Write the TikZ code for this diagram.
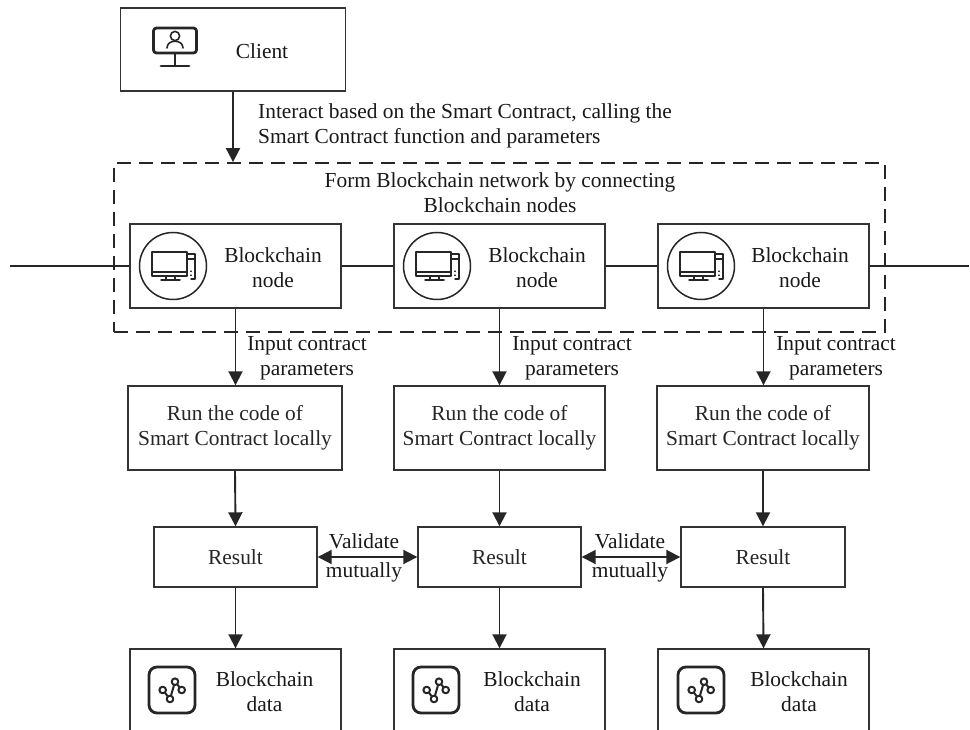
\documentclass[tikz,border=0pt]{standalone}
\usepackage{fontspec}
\setmainfont{Liberation Serif}
\usetikzlibrary{arrows.meta,positioning}
\tikzset{
  bx/.style={draw=black!80,line width=1.4pt,inner sep=0pt,align=center,text=black!85,font=\fontsize{21.4}{25}\selectfont},
  lab/.style={inner sep=0pt,align=center,text=black!90,font=\fontsize{21.4}{25}\selectfont},
  labv/.style={lab,font=\fontsize{21.4}{29}\selectfont},
  con/.style={draw=black!85,line width=1.9pt},
  arr/.style={con,-{Triangle[length=14pt,width=14pt]}},
  arrb/.style={con,{Triangle[length=14pt,width=14pt]}-{Triangle[length=14pt,width=14pt]}},
  ico/.style={draw=black!85,line width=1.5pt,line cap=round,line join=round},
  icob/.style={draw=black!85,line width=2.8pt,line cap=round,line join=round},
}
\newcommand{\pcicon}[2]{\begin{scope}[shift={(#1,#2)}]
  \draw[ico] (0,0) circle (33.5pt);
  \draw[ico] (14,-12) -- (22,-12) -- (22,13) -- (18,13);
  \draw[ico] (14,-7) -- (22,-7);
  \draw[ico,fill=white,line width=2pt] (-21,-14) rectangle (14,10);
  \draw[ico,line width=1.3pt] (-21,6) -- (14,6);
  \draw[ico] (-7,10) -- (-7,14) (2,10) -- (2,14) (-12,14) -- (7,14);
  \draw[ico,line width=1.2pt] (18,5) -- (18,5.5) (18,9) -- (18,9.5);
\end{scope}}
\newcommand{\dataicon}[2]{\begin{scope}[shift={(#1,#2)}]
  \draw[icob,rounded corners=8pt] (-23,-23) rectangle (23,23);
  \draw[ico,line width=2pt] (-9.3,0) -- (-2,9) -- (3,-8.3) -- (9.7,0);
  \foreach \p in {(-9.3,0),(-2,9),(3,-8.3),(9.7,0)} \draw[ico,line width=2pt,fill=white] \p circle (3.3pt);
\end{scope}}
\begin{document}
\begin{tikzpicture}[x=1pt,y=-1pt]
\useasboundingbox (0,0) rectangle (970,730);
\clip (0,0) rectangle (970,730);
\fill[white] (0,0) rectangle (970,730);

% boxes
\node[bx,minimum width=225pt,minimum height=83pt] (client) at (233,49.5) {};
\node[lab] (clientt) at (262,51) {Client};

\node[draw=black!85,line width=1.8pt,dash pattern=on 14pt off 8pt,minimum width=771pt,minimum height=169pt,inner sep=0pt] (net) at (499.5,247.5) {};
\node[lab] (nett) at (500,192.5) {Form Blockchain network by connecting\\Blockchain nodes};

\node[bx,minimum width=211pt,minimum height=84pt] (n1) at (235.5,266) {};
\node[bx,minimum width=211pt,minimum height=84pt] (n2) at (499.5,266) {};
\node[bx,minimum width=211pt,minimum height=84pt] (n3) at (763.5,266) {};
\node[lab] (n1t) at (273,267.5) {Blockchain\\node};
\node[lab] (n2t) at (537,267.5) {Blockchain\\node};
\node[lab] (n3t) at (800,267.5) {Blockchain\\node};

\node[bx,minimum width=214pt,minimum height=84pt] (r1) at (235,428) {Run the code of\\Smart Contract locally};
\node[bx,minimum width=211pt,minimum height=84pt] (r2) at (499.5,428) {Run the code of\\Smart Contract locally};
\node[bx,minimum width=212pt,minimum height=84pt] (r3) at (763,428) {Run the code of\\Smart Contract locally};

\node[bx,minimum width=163pt,minimum height=60pt] (s1) at (235.5,557) {Result};
\node[bx,minimum width=163pt,minimum height=60pt] (s2) at (499.5,557) {Result};
\node[bx,minimum width=164pt,minimum height=60pt] (s3) at (763,557) {Result};

\node[bx,minimum width=211pt,minimum height=84pt] (d1) at (235.5,691) {};
\node[bx,minimum width=211pt,minimum height=84pt] (d2) at (499.5,691) {};
\node[bx,minimum width=211pt,minimum height=84pt] (d3) at (763.5,691) {};
\node[lab] (d1t) at (264.5,692) {Blockchain\\data};
\node[lab] (d2t) at (532,692) {Blockchain\\data};
\node[lab] (d3t) at (799,692) {Blockchain\\data};

% icons
\pcicon{173}{266}
\pcicon{437}{266}
\pcicon{701}{266}
\dataicon{172}{690}
\dataicon{436}{690}
\dataicon{701}{690}
% client icon
\begin{scope}[shift={(175,48)}]
  \draw[icob,rounded corners=3pt] (-21.5,-20) rectangle (21.5,5);
  \draw[ico,line width=1.6pt] (-8,0) .. controls (-8,-9) and (8,-9) .. (8,0);
  \draw[ico,line width=1.6pt] (0,-12) circle (4.6pt);
  \draw[ico,line width=2.2pt] (0,5) -- (0,17);
  \draw[icob] (-14,18) -- (14,18);
\end{scope}

% connectors
\coordinate (lend) at (10,266);
\coordinate (rend) at (969,266);
\draw[con] (lend) -- (n1.west);
\draw[con] (n1.east) -- (n2.west);
\draw[con] (n2.east) -- (n3.west);
\draw[con] (n3.east) -- (rend);
\draw[arr] (client.south) -- (client.south |- net.north);
\draw[arr] (n1.south) -- (r1.north -| n1.south);
\draw[arr] (n2.south) -- (r2.north);
\draw[arr] (n3.south) -- (r3.north -| n3.south);
\draw[arr] (r1.south) -- (s1.north);
\draw[arr] (r2.south) -- (s2.north);
\draw[arr] (r3.south) -- (s3.north);
\draw[arr] (s1.south) -- (d1.north);
\draw[arr] (s2.south) -- (d2.north);
\draw[arr] (s3.south) -- (d3.north);
\draw[arrb] (s1.east) -- (s2.west);
\draw[arrb] (s2.east) -- (s3.west);

% labels
\node[lab,align=left,anchor=west] (l0) at (258,125.5) {Interact based on the Smart Contract, calling the\\Smart Contract function and parameters};
\node[lab] (l1) at (307,358.5) {Input contract\\parameters};
\node[lab] (l2) at (572,358.5) {Input contract\\parameters};
\node[lab] (l3) at (836,358.5) {Input contract\\parameters};
\node[labv] (v1) at (364,557.5) {Validate\\mutually};
\node[labv] (v2) at (630,557.5) {Validate\\mutually};
\end{tikzpicture}
\end{document}
